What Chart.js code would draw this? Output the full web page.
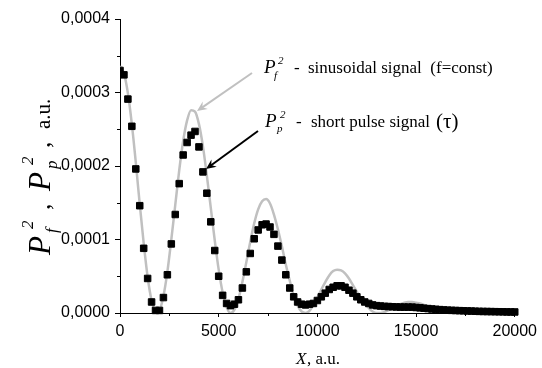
<!DOCTYPE html>
<html>
<head>
<meta charset="utf-8">
<script src="https://cdn.jsdelivr.net/npm/chart.js@4.4.1/dist/chart.umd.min.js"></script>
<style>
  html, body { margin: 0; padding: 0; background: #fff; }
</style>
</head>
<body>
<canvas id="spectrum" width="542" height="368"></canvas>
<script>
// X, a.u. (sampling of both curves)
const xValues = [
  0, 200, 400, 600, 800, 1000, 1200, 1400, 1600, 1800,
  2000, 2200, 2400, 2600, 2800, 3000, 3200, 3400, 3600, 3800,
  4000, 4200, 4400, 4600, 4800, 5000, 5200, 5400, 5600, 5800,
  6000, 6200, 6400, 6600, 6800, 7000, 7200, 7400, 7600, 7800,
  8000, 8200, 8400, 8600, 8800, 9000, 9200, 9400, 9600, 9800,
  10000, 10200, 10400, 10600, 10800, 11000, 11200, 11400, 11600, 11800,
  12000, 12200, 12400, 12600, 12800, 13000, 13200, 13400, 13600, 13800,
  14000, 14200, 14400, 14600, 14800, 15000, 15200, 15400, 15600, 15800,
  16000, 16200, 16400, 16600, 16800, 17000, 17200, 17400, 17600, 17800,
  18000, 18200, 18400, 18600, 18800, 19000, 19200, 19400, 19600, 19800,
  20000
];

// P_f^2, sinusoidal signal (grey line), in units of 1e-4
const pfValues = [
  3.36, 3.26, 2.99, 2.57, 2.05, 1.48, 0.95, 0.49, 0.17, 0.01,
  0.035, 0.23, 0.56, 1.00, 1.47, 1.94, 2.34, 2.62, 2.76, 2.74,
  2.57, 2.27, 1.87, 1.43, 0.99, 0.59, 0.28, 0.08, 0.00, 0.045,
  0.19, 0.42, 0.69, 0.97, 1.22, 1.41, 1.52, 1.55, 1.49, 1.34,
  1.14, 0.91, 0.66, 0.44, 0.24, 0.10, 0.02, 0.00, 0.03, 0.11,
  0.21, 0.32, 0.42, 0.51, 0.57, 0.59, 0.58, 0.54, 0.47, 0.38,
  0.29, 0.20, 0.13, 0.07, 0.02, 0.00, 0.00, 0.014, 0.04, 0.07,
  0.10, 0.12, 0.14, 0.15, 0.15, 0.14, 0.13, 0.11, 0.085, 0.063,
  0.042, 0.024, 0.012, 0.004, 0.00, 0.00, 0.004, 0.009, 0.014, 0.020,
  0.024, 0.026, 0.027, 0.026, 0.024, 0.020, 0.017, 0.013, 0.009, 0.006,
  0.003
];

// P_p^2, short pulse signal (black squares), in units of 1e-4
const ppValues = [
  3.30, 3.24, 2.91, 2.54, 1.96, 1.46, 0.88, 0.47, 0.15, 0.035,
  0.035, 0.21, 0.52, 0.94, 1.34, 1.76, 2.15, 2.32, 2.42, 2.47,
  2.26, 1.92, 1.63, 1.24, 0.85, 0.50, 0.24, 0.13, 0.10, 0.12,
  0.18, 0.34, 0.56, 0.81, 1.01, 1.13, 1.20, 1.21, 1.17, 1.07,
  0.91, 0.72, 0.52, 0.34, 0.22, 0.15, 0.12, 0.11, 0.12, 0.13,
  0.17, 0.22, 0.27, 0.32, 0.35, 0.37, 0.37, 0.35, 0.31, 0.27,
  0.22, 0.18, 0.15, 0.13, 0.11, 0.10, 0.095, 0.09, 0.088, 0.085,
  0.083, 0.08, 0.08, 0.08, 0.08, 0.075, 0.07, 0.065, 0.06, 0.055,
  0.05, 0.046, 0.042, 0.039, 0.036, 0.034, 0.032, 0.030, 0.028, 0.026,
  0.024, 0.022, 0.021, 0.020, 0.019, 0.018, 0.017, 0.016, 0.015, 0.014,
  0.014
];

const yTicks = [0, 1, 2, 3, 4];
const yTickLabels = ['0,0000', '0,0001', '0,0002', '0,0003', '0,0004'];
const xTicks = [0, 5000, 10000, 15000, 20000];
const xTickLabels = ['0', '5000', '10000', '15000', '20000'];

const SERIF = "'Liberation Serif', 'Times New Roman', serif";
const SANS = "'Liberation Sans', Arial, sans-serif";

function drawRuns(ctx, runs) {
  runs.forEach(r => {
    ctx.font = r.font;
    ctx.fillText(r.text, r.x, r.y);
  });
}

function arrow(ctx, x1, y1, x2, y2, color) {
  const a = Math.atan2(y2 - y1, x2 - x1);
  const len = 11, half = 0.42;
  ctx.save();
  ctx.strokeStyle = color;
  ctx.fillStyle = color;
  ctx.lineWidth = 2;
  ctx.beginPath();
  ctx.moveTo(x1, y1);
  ctx.lineTo(x2 - Math.cos(a) * 6, y2 - Math.sin(a) * 6);
  ctx.stroke();
  ctx.beginPath();
  ctx.moveTo(x2, y2);
  ctx.lineTo(x2 - len * Math.cos(a - half), y2 - len * Math.sin(a - half));
  ctx.lineTo(x2 - len * 0.6 * Math.cos(a), y2 - len * 0.6 * Math.sin(a));
  ctx.lineTo(x2 - len * Math.cos(a + half), y2 - len * Math.sin(a + half));
  ctx.closePath();
  ctx.fill();
  ctx.restore();
}

// minor ticks, axis titles and the two labels with arrows
const decorations = {
  id: 'decorations',
  afterDraw(chart) {
    const { ctx, chartArea, scales: { x, y } } = chart;
    ctx.save();
    ctx.strokeStyle = '#000';
    ctx.lineWidth = 1;
    ctx.beginPath();
    for (let i = 0; i < yTicks.length - 1; i++) {
      const py = Math.round(y.getPixelForValue((yTicks[i] + yTicks[i + 1]) / 2)) + 0.5;
      ctx.moveTo(chartArea.left - 3, py);
      ctx.lineTo(chartArea.left, py);
    }
    for (let i = 0; i < xTicks.length - 1; i++) {
      const px = Math.round(x.getPixelForValue((xTicks[i] + xTicks[i + 1]) / 2)) + 0.5;
      ctx.moveTo(px, chartArea.bottom);
      ctx.lineTo(px, chartArea.bottom + 3);
    }
    ctx.stroke();

    ctx.fillStyle = '#000';
    ctx.textBaseline = 'alphabetic';
    ctx.textAlign = 'left';

    // x title
    drawRuns(ctx, [
      { text: 'X', font: 'italic 17px ' + SERIF, x: 296, y: 364 },
      { text: ', a.u.', font: '17px ' + SERIF, x: 307, y: 364 }
    ]);

    // y title (rotated)
    ctx.save();
    ctx.translate(50, 255);
    ctx.rotate(-Math.PI / 2);
    drawRuns(ctx, [
      { text: 'P', font: 'italic 31px ' + SERIF, x: 0, y: 0 },
      { text: 'f', font: 'italic 17px ' + SERIF, x: 22, y: 7 },
      { text: '2', font: 'italic 17px ' + SERIF, x: 26, y: -17 },
      { text: ',', font: '26px ' + SERIF, x: 45, y: 0 },
      { text: 'P', font: 'italic 31px ' + SERIF, x: 64, y: 0 },
      { text: 'p', font: 'italic 17px ' + SERIF, x: 86, y: 7 },
      { text: '2', font: 'italic 17px ' + SERIF, x: 90, y: -17 },
      { text: ',', font: '26px ' + SERIF, x: 107, y: 0 },
      { text: 'a.u.', font: '21px ' + SERIF, x: 126, y: 0 }
    ]);
    ctx.restore();

    // annotation: sinusoidal
    drawRuns(ctx, [
      { text: 'P', font: 'italic 19px ' + SERIF, x: 264, y: 73 },
      { text: 'f', font: 'italic 11px ' + SERIF, x: 274, y: 79 },
      { text: '2', font: 'italic 11px ' + SERIF, x: 278, y: 64 },
      { text: '-', font: '17px ' + SERIF, x: 294, y: 73 },
      { text: 'sinusoidal signal  (f=const)', font: '17px ' + SERIF, x: 308, y: 73 }
    ]);
    // annotation: short pulse
    drawRuns(ctx, [
      { text: 'P', font: 'italic 19px ' + SERIF, x: 265, y: 127 },
      { text: 'p', font: 'italic 11px ' + SERIF, x: 277, y: 132 },
      { text: '2', font: 'italic 11px ' + SERIF, x: 280, y: 118 },
      { text: '-', font: '17px ' + SERIF, x: 296, y: 127 },
      { text: 'short pulse signal', font: '17px ' + SERIF, x: 311, y: 127 },
      { text: '(\u03C4)', font: '21px ' + SERIF, x: 436, y: 128 }
    ]);
    ctx.restore();

    arrow(ctx, 252, 73, 197, 111, '#c0c0c0');
    arrow(ctx, 258, 131, 206, 169, '#000');
  }
};

const ctx = document.getElementById('spectrum').getContext('2d');
new Chart(ctx, {
  type: 'scatter',
  data: {
    datasets: [
      {
        label: 'P_p^2',
        data: xValues.map((x, i) => ({ x: x, y: ppValues[i] })),
        pointStyle: 'rect',
        pointRadius: 4.6,
        backgroundColor: '#000',
        borderColor: '#000',
        borderWidth: 1,
        showLine: false,
        clip: { left: 0, top: 10, right: 10, bottom: 5 },
        order: 0
      },
      {
        label: 'P_f^2',
        data: xValues.map((x, i) => ({ x: x, y: pfValues[i] })),
        showLine: true,
        pointRadius: 0,
        borderColor: '#c0c0c0',
        borderWidth: 2.5,
        cubicInterpolationMode: 'monotone',
        order: 1
      }
    ]
  },
  options: {
    responsive: false,
    animation: false,
    devicePixelRatio: 1,
    layout: { padding: { top: 19, right: 26, left: 0, bottom: 0 } },
    scales: {
      x: {
        type: 'linear',
        min: 0,
        max: 20000,
        afterBuildTicks: s => { s.ticks = xTicks.map(v => ({ value: v })); },
        afterFit: s => { s.height = 55; },
        ticks: {
          callback: (v, i) => xTickLabels[i],
          color: '#000',
          font: { family: SANS, size: 16 },
          padding: 5,
          maxRotation: 0,
          autoSkip: false
        },
        grid: { drawOnChartArea: false, drawTicks: true, tickLength: 4, color: '#000', lineWidth: 1 },
        border: { display: true, color: '#000', width: 1 }
      },
      y: {
        min: 0,
        max: 4,
        afterBuildTicks: s => { s.ticks = yTicks.map(v => ({ value: v })); },
        afterFit: s => { s.width = 120; },
        ticks: {
          callback: (v, i) => yTickLabels[i],
          color: '#000',
          font: { family: SANS, size: 16 },
          padding: 5
        },
        grid: { drawOnChartArea: false, drawTicks: true, tickLength: 5, color: '#000', lineWidth: 1 },
        border: { display: true, color: '#000', width: 1 }
      }
    },
    plugins: {
      legend: { display: false },
      tooltip: { enabled: false }
    }
  },
  plugins: [decorations]
});
</script>
</body>
</html>
